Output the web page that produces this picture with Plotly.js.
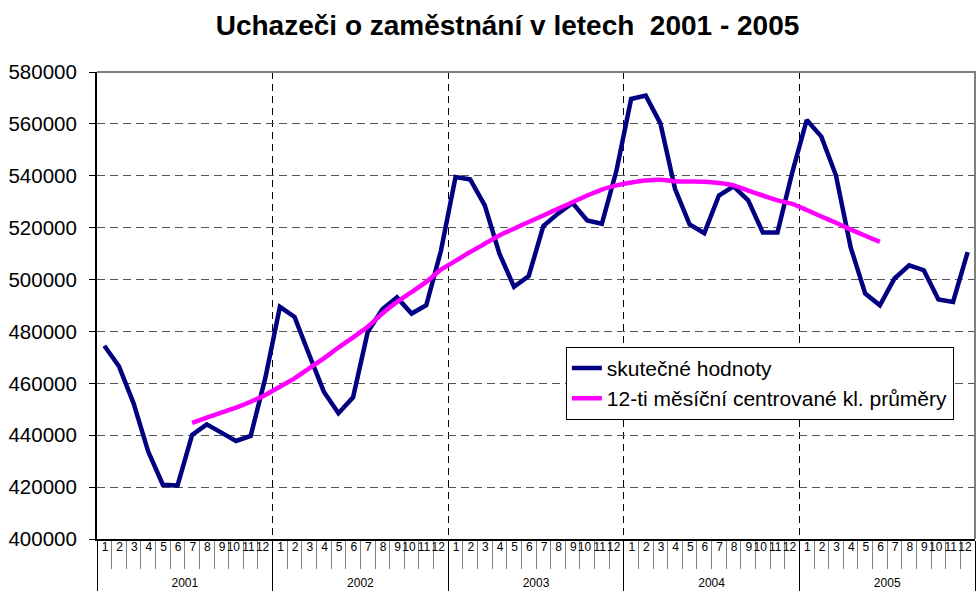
<!DOCTYPE html>
<html>
<head>
<meta charset="utf-8">
<script src="https://cdn.plot.ly/plotly-3.0.1.min.js"></script>
<style>html,body{margin:0;padding:0;background:#fff;}#chart{width:976px;height:594px;}</style>
</head>
<body>
<div id="chart"></div>
<script>
const years = ['2001', '2002', '2003', '2004', '2005'];
const months = ['1', '2', '3', '4', '5', '6', '7', '8', '9', '10', '11', '12'];

// skutečné hodnoty (monthly, Jan 2001 - Dec 2005)
const actual = [
  474500, 466600, 452300, 433700, 420900, 420600, 440100, 444200, 441000, 437800, 439700, 462000,
  489500, 485600, 471000, 456800, 448500, 454600, 479800, 488500, 493100, 486900, 490100, 511000,
  539500, 538600, 528600, 510000, 497200, 501300, 520600, 525400, 529500, 522800, 521500, 542000,
  569600, 570900, 560200, 535000, 521200, 517900, 532400, 535900, 530500, 518100, 518100, 541000,
  561500, 555100, 540100, 512500, 494600, 490100, 500400, 505500, 503600, 492300, 491400, 510600
];

// 12-ti měsíční centrované klouzavé průměry (Jul 2001 - Jun 2005)
const movingAvgStart = 6; // index of first month with a value (July 2001)
const movingAvg = [
  444800, 446800, 448700, 450600, 452900, 455500,
  458700, 461900, 465800, 469600, 473800, 477700, 481800, 486900, 491400, 495200, 499100, 503800,
  507200, 510600, 513800, 517000, 519600, 522200, 524700, 527300, 529800, 532400, 534700, 536300,
  537400, 538200, 538500, 537900, 537800, 537700, 537200, 536300, 534300, 532400, 530500, 529200,
  526800, 524300, 521900, 519300, 516900, 514500
];

const seriesNames = ['skutečné hodnoty', '12-ti měsíční centrované kl. průměry'];
const titleText = 'Uchazeči o zaměstnání v letech\u00a0 2001 - 2005';

// build multicategory coordinates
const xYears = [], xMonths = [];
years.forEach(y => months.forEach(m => { xYears.push(y); xMonths.push(m); }));
const maYears = xYears.slice(movingAvgStart, movingAvgStart + movingAvg.length);
const maMonths = xMonths.slice(movingAvgStart, movingAvgStart + movingAvg.length);
const yearBoundaries = years.slice(1).map((y, i) => (i + 1) * months.length);

const FONT = 'Liberation Sans, Arial, sans-serif';

const traces = [
  // empty helper trace so the base (linear) subplot carrying the year grid exists
  { type: 'scatter', mode: 'lines', x: [], y: [], xaxis: 'x', yaxis: 'y',
    showlegend: false, hoverinfo: 'skip' },
  {
    type: 'scatter', mode: 'lines', name: seriesNames[0],
    x: [xYears, xMonths], y: actual, xaxis: 'x2', yaxis: 'y',
    line: { color: '#000080', width: 4.5 }
  },
  {
    type: 'scatter', mode: 'lines', name: seriesNames[1],
    x: [maYears, maMonths], y: movingAvg, xaxis: 'x2', yaxis: 'y',
    line: { color: '#FF00FF', width: 4.5, shape: 'spline', smoothing: 0.6 }
  }
];

const layout = {
  width: 976, height: 594,
  margin: { l: 97, r: 1, t: 72, b: 55 },
  paper_bgcolor: '#ffffff', plot_bgcolor: '#ffffff',
  font: { family: FONT, color: '#000000' },
  title: {
    text: titleText, x: 0.52, xanchor: 'center', y: 0.957, yanchor: 'middle',
    font: { family: FONT, size: 28, color: '#000000', weight: 'bold' }
  },
  showlegend: true,
  legend: {
    x: 0.534, xanchor: 'left', y: 0.4115, yanchor: 'top',
    bgcolor: '#ffffff', bordercolor: '#000000', borderwidth: 1,
    font: { family: FONT, size: 21, color: '#000000' }
  },
  xaxis: {
    type: 'linear',
    range: [0, years.length * months.length],
    tickmode: 'array', tickvals: yearBoundaries,
    showgrid: true, gridcolor: '#000000', gridwidth: 1, griddash: '7px,5px',
    showticklabels: false, ticks: '', zeroline: false, showline: false
  },
  xaxis2: {
    type: 'multicategory', overlaying: 'x', anchor: 'y', side: 'bottom',
    range: [-0.5, years.length * months.length - 0.5],
    showline: true, linecolor: '#000000', linewidth: 2,
    ticks: 'outside', tickson: 'boundaries', ticklen: 28, tickcolor: '#808080', tickwidth: 1,
    showdividers: true, dividercolor: '#000000', dividerwidth: 1,
    ticklabelstandoff: -4, ticklabelshift: 4, tickangle: -0.01,
    tickfont: { family: FONT, size: 12, color: '#000000' },
    showgrid: false, zeroline: false
  },
  yaxis: {
    range: [400000, 580000], tick0: 400000, dtick: 20000, tickformat: 'd',
    showgrid: true, gridcolor: '#555555', gridwidth: 1, griddash: '8px,5px',
    ticks: 'outside', ticklen: 6, tickcolor: '#000000', tickwidth: 1,
    showline: true, linecolor: '#000000', linewidth: 2, zeroline: false,
    ticklabelstandoff: 8,
    tickfont: { family: FONT, size: 20.5, color: '#000000' }
  },
  shapes: [
    { type: 'path', xref: 'paper', yref: 'paper', path: 'M0,1 L1,1 L1,0',
      line: { color: '#808080', width: 2 }, layer: 'above' }
  ]
};

Plotly.newPlot('chart', traces, layout, { displayModeBar: false, staticPlot: true });
</script>
</body>
</html>
